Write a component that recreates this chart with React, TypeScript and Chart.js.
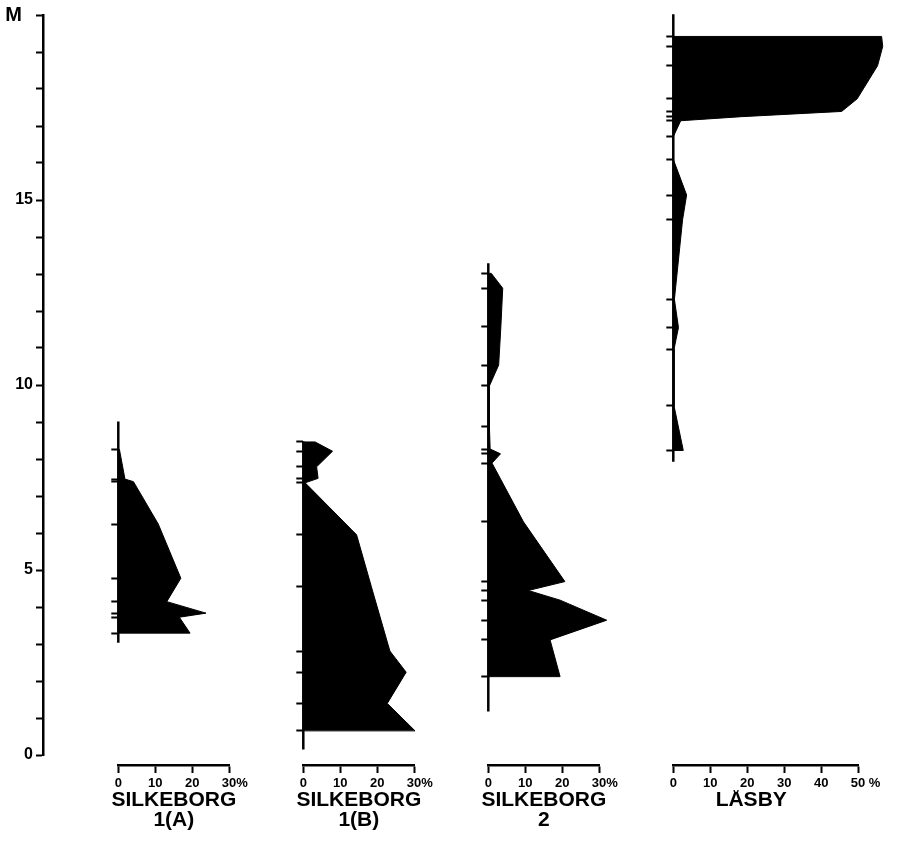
import React, { useEffect, useRef } from 'react';
import { Chart, registerables } from 'chart.js';

Chart.register(...registerables);

// ---------------- DATA ----------------
// Main depth axis (metres)
const DEPTH_MAX = 20;
const DEPTH_STEP = 1;
const DEPTH_LABEL_EVERY = 5;
const DEPTH_UNIT = 'M';

// SILKEBORG 1(A)
const S1A_TITLE = ['SILKEBORG', '1(A)'];
const S1A_DEPTHS = [8.23, 7.43, 7.36, 6.22, 4.76, 4.13, 3.82, 3.71, 3.28];
const S1A_PCT = [0.3, 1.8, 4.1, 10.8, 16.9, 13.1, 23.7, 16.5, 19.4];
const S1A_CORE = [8.98, 3.02];

// SILKEBORG 1(B)
const S1B_TITLE = ['SILKEBORG', '1(B)'];
const S1B_DEPTHS = [8.43, 8.18, 7.76, 7.45, 7.33, 5.93, 4.53, 2.8, 2.23, 1.39, 0.65];
const S1B_PCT = [3.2, 7.9, 3.6, 4.0, 0.5, 14.4, 18.4, 23.4, 27.8, 22.7, 30.2];
const S1B_CORE = [8.45, 0.15];

// SILKEBORG 2
const S2_TITLE = ['SILKEBORG', '2'];
const S2_DEPTHS = [12.97, 12.57, 11.54, 10.5, 9.94, 8.84, 8.24, 8.11, 7.86, 6.28, 4.67, 4.43, 4.17, 3.63, 3.1, 2.11];
const S2_PCT = [0.8, 3.9, 3.4, 2.8, 0.3, 0.3, 0.5, 3.3, 1.0, 9.5, 20.7, 10.8, 19.4, 32.0, 16.7, 19.4];
const S2_CORE = [13.24, 1.17];

// LÅSBY
const L_TITLE = ['LÅSBY     '];
const L_DEPTHS = [19.35, 19.08, 18.56, 17.67, 17.33, 17.19, 17.08, 16.65, 16.04, 15.08, 14.41, 12.27, 11.51, 10.93, 9.4, 8.2];
const L_PCT = [56.3, 56.6, 55.2, 49.7, 45.5, 18.5, 2.0, 0.0, 0.0, 3.6, 2.5, 0.3, 1.4, 0.2, 0.2, 2.7];
const L_CORE = [19.95, 7.9];

// Percentage axes
const SILK_PCT_MAX = 30;
const LASBY_PCT_MAX = 50;
const PCT_STEP = 10;
const SILK_LAST_LABEL = '   30%';
const LASBY_LAST_LABEL = '    50 %';

// ---------------- LAYOUT ----------------
const W = 900;
const H = 849;
const TOP_PAD = 12.3;
const MAIN_AXIS_X = 43;
const DEPTH_ZERO_Y = 755;
const X_AXIS_Y = 765;
const TITLE_AXIS_Y = 790;
const PX_PER_PCT = 3.7;
const PANEL_X0 = [118.3, 303.3, 488.3, 673.3];
const SAMPLE_TICK = 7;
const FONT = "'Liberation Sans', Arial, Helvetica, sans-serif";
const PANEL_DEPTH_MIN = -((X_AXIS_Y - DEPTH_ZERO_Y) * DEPTH_MAX) / (DEPTH_ZERO_Y - TOP_PAD);

interface Panel {
  title: string[];
  depths: number[];
  pct: number[];
  core: number[];
  max: number;
  lastLabel: string;
  x0: number;
}

const PANELS: Panel[] = [
  { title: S1A_TITLE, depths: S1A_DEPTHS, pct: S1A_PCT, core: S1A_CORE, max: SILK_PCT_MAX, lastLabel: SILK_LAST_LABEL, x0: PANEL_X0[0] },
  { title: S1B_TITLE, depths: S1B_DEPTHS, pct: S1B_PCT, core: S1B_CORE, max: SILK_PCT_MAX, lastLabel: SILK_LAST_LABEL, x0: PANEL_X0[1] },
  { title: S2_TITLE, depths: S2_DEPTHS, pct: S2_PCT, core: S2_CORE, max: SILK_PCT_MAX, lastLabel: SILK_LAST_LABEL, x0: PANEL_X0[2] },
  { title: L_TITLE, depths: L_DEPTHS, pct: L_PCT, core: L_CORE, max: LASBY_PCT_MAX, lastLabel: LASBY_LAST_LABEL, x0: PANEL_X0[3] },
];

// Let the filled profiles run past the right end of their % axis (as in the original)
const unclipPlugin = {
  id: 'unclipProfiles',
  beforeDatasetsDraw(chart: any) {
    chart.$savedArea = chart.chartArea;
    const a = chart.chartArea;
    chart.chartArea = { ...a, right: chart.width, width: chart.width - a.left };
  },
  afterDatasetsDraw(chart: any) {
    if (chart.$savedArea) chart.chartArea = chart.$savedArea;
  },
};

const common = {
  responsive: false,
  animation: false as const,
  devicePixelRatio: 1,
  events: [] as any[],
  plugins: { legend: { display: false }, tooltip: { enabled: false } },
};

const blackGrid = {
  display: true,
  drawOnChartArea: false,
  drawTicks: true,
  tickWidth: 2,
  tickColor: '#000',
  color: '#000',
};

function mainConfig(): any {
  return {
    type: 'line',
    data: { datasets: [] },
    options: {
      ...common,
      layout: { padding: { left: 0, right: 0, top: TOP_PAD, bottom: H - DEPTH_ZERO_Y } },
      scales: {
        x: { display: false, type: 'linear', min: 0, max: 1 },
        y: {
          type: 'linear',
          position: 'left',
          min: 0,
          max: DEPTH_MAX,
          afterFit: (s: any) => { s.width = MAIN_AXIS_X; },
          ticks: {
            stepSize: DEPTH_STEP,
            padding: 3,
            color: '#000',
            autoSkip: false,
            font: (ctx: any) =>
              ctx.tick && ctx.tick.value === DEPTH_MAX
                ? { family: FONT, size: 20, weight: 'bold' }
                : { family: FONT, size: 16, weight: 'bold' },
            callback: (v: number) =>
              v === DEPTH_MAX ? DEPTH_UNIT + '  ' : v % DEPTH_LABEL_EVERY === 0 ? String(v) : '',
          },
          grid: { ...blackGrid, tickLength: 7 },
          border: { display: true, color: '#000', width: 2.5 },
        },
      },
    },
  };
}

function panelConfig(p: Panel): any {
  const last = p.depths.length - 1;
  const profile = [
    { x: 0, y: p.depths[0] },
    ...p.depths.map((d, i) => ({ x: p.pct[i], y: d })),
    { x: 0, y: p.depths[last] },
  ];
  const core = p.core.map((d) => ({ x: 0, y: d }));
  const xEnd = p.x0 + p.max * PX_PER_PCT;
  return {
    type: 'line',
    data: {
      datasets: [
        { data: core, borderColor: '#000', borderWidth: 2.5, pointRadius: 0, fill: false, clip: false },
        {
          data: profile,
          borderColor: '#000',
          backgroundColor: '#000',
          borderWidth: 1,
          pointRadius: 0,
          fill: 'origin',
          tension: 0,
          clip: false,
        },
      ],
    },
    options: {
      ...common,
      indexAxis: 'y',
      layout: { padding: { left: p.x0 - SAMPLE_TICK, right: W - xEnd, top: TOP_PAD, bottom: 0 } },
      scales: {
        x: {
          type: 'linear',
          position: 'bottom',
          min: 0,
          max: p.max,
          afterFit: (s: any) => { s.height = TITLE_AXIS_Y - X_AXIS_Y; },
          ticks: {
            stepSize: PCT_STEP,
            padding: 3,
            color: '#000',
            autoSkip: false,
            maxRotation: 0,
            font: { family: FONT, size: 13, weight: 'bold' },
            callback: (v: number) => (v === p.max ? p.lastLabel : String(v)),
          },
          grid: { ...blackGrid, tickLength: 8 },
          border: { display: true, color: '#000', width: 2.5 },
        },
        xTitle: {
          type: 'category',
          position: 'bottom',
          labels: [p.title],
          offset: true,
          afterFit: (s: any) => { s.height = H - TITLE_AXIS_Y; },
          grid: { display: false, drawTicks: false },
          border: { display: false },
          ticks: {
            padding: 0,
            color: '#000',
            autoSkip: false,
            maxRotation: 0,
            minRotation: 0,
            font: { family: FONT, size: 21, weight: 'bold', lineHeight: 0.95 },
          },
        },
        y: {
          type: 'linear',
          position: 'left',
          min: PANEL_DEPTH_MIN,
          max: DEPTH_MAX,
          afterFit: (s: any) => { s.width = SAMPLE_TICK; },
          afterBuildTicks: (s: any) => { s.ticks = p.depths.map((v) => ({ value: v })); },
          ticks: { display: false },
          grid: { ...blackGrid, tickLength: SAMPLE_TICK },
          border: { display: false },
        },
      },
    },
    plugins: [unclipPlugin],
  };
}

export default function App() {
  const refs = useRef<(HTMLCanvasElement | null)[]>([]);

  useEffect(() => {
    const charts: Chart[] = [];
    const c0 = refs.current[0];
    if (c0) charts.push(new Chart(c0, mainConfig()));
    PANELS.forEach((p, i) => {
      const c = refs.current[i + 1];
      if (c) charts.push(new Chart(c, panelConfig(p)));
    });
    return () => charts.forEach((c) => c.destroy());
  }, []);

  return (
    <div style={{ position: 'absolute', left: 0, top: 0, width: W, height: H, background: '#fff', overflow: 'hidden' }}>
      {[0, 1, 2, 3, 4].map((i) => (
        <canvas
          key={i}
          ref={(el) => { refs.current[i] = el; }}
          width={W}
          height={H}
          style={{ position: 'absolute', left: 0, top: 0, width: W, height: H }}
        />
      ))}
    </div>
  );
}
